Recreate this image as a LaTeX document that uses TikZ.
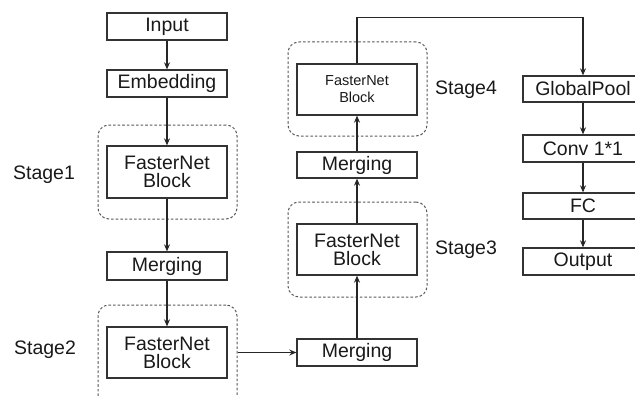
\documentclass[tikz,border=0pt]{standalone}
\usepackage{fontspec}
\setmainfont{Liberation Sans}
\usetikzlibrary{arrows.meta}
\begin{document}
\begin{tikzpicture}[x=1pt,y=-1pt,
  box/.style={draw=black!80, line width=1.3pt, minimum width=120pt, inner sep=0pt,
    font=\fontsize{19.5}{21}\selectfont, align=center, text=black!90},
  stagebox/.style={draw=black!65, line width=1pt, dash pattern=on 2.6pt off 2pt,
    rounded corners=11pt, inner sep=0pt},
  lbl/.style={font=\fontsize{19.5}{21}\selectfont, text=black!90},
  flow/.style={draw=black!85, line width=1.2pt, -{Stealth[length=7pt,width=6pt]}}]
\useasboundingbox (0,0) rectangle (635,396);

% dashed stage frames
\node[stagebox, minimum width=139pt, minimum height=94pt]  (s1) at (167.5,172) {};
\node[stagebox, minimum width=139pt, minimum height=105pt] (s2) at (167.5,357.5) {};
\node[stagebox, minimum width=139pt, minimum height=95pt]  (s3) at (357.5,249.5) {};
\node[stagebox, minimum width=139pt, minimum height=94pt]  (s4) at (357.5,89) {};

% left column
\node[box, minimum height=27pt] (in)  at (167,26.5)  {Input};
\node[box, minimum height=27pt] (emb) at (167,83.5)  {Embedding};
\node[box, minimum height=52pt] (fb1) at (167,172)   {FasterNet\\[-3pt]Block};
\node[box, minimum height=28pt] (mg1) at (167,266)   {Merging};
\node[box, minimum height=51pt] (fb2) at (167,352.5) {FasterNet\\[-3pt]Block};

% middle column
\node[box, minimum height=27pt] (mg3) at (357,352.5) {Merging};
\node[box, minimum height=51pt] (fb3) at (357,249.5) {FasterNet\\[-3pt]Block};
\node[box, minimum height=26pt] (mg2) at (357,165)   {Merging};
\node[box, minimum height=51pt, font=\fontsize{14.5}{17}\selectfont] (fb4) at (357,89.5) {FasterNet\\Block};

% right column (head)
\node[box, minimum height=26pt] (gp)   at (583,89)    {GlobalPool};
\node[box, minimum height=27pt] (conv) at (583,148.5) {Conv 1*1};
\node[box, minimum height=26pt] (fc)   at (583,206)   {FC};
\node[box, minimum height=27pt] (out)  at (583,261.5) {Output};

% stage labels
\node[lbl] (l1) at (44,175)  {Stage1};
\node[lbl] (l2) at (45,350)  {Stage2};
\node[lbl] (l3) at (466,250) {Stage3};
\node[lbl] (l4) at (466,90)  {Stage4};

% connectors
\draw[flow] (in) -- (emb);
\draw[flow] (emb) -- (fb1);
\draw[flow] (fb1) -- (mg1);
\draw[flow] (mg1) -- (fb2);
\draw[flow] (fb2 -| s2.east) -- (mg3);
\draw[flow] (mg3) -- (fb3);
\draw[flow] (fb3) -- (mg2);
\draw[flow] (mg2) -- (fb4);
\draw[flow] (fb4.north) -- ++(0,-46) -| (gp.north);
\draw[flow] (gp) -- (conv);
\draw[flow] (conv) -- (fc);
\draw[flow] (fc) -- (out);
\end{tikzpicture}
\end{document}
